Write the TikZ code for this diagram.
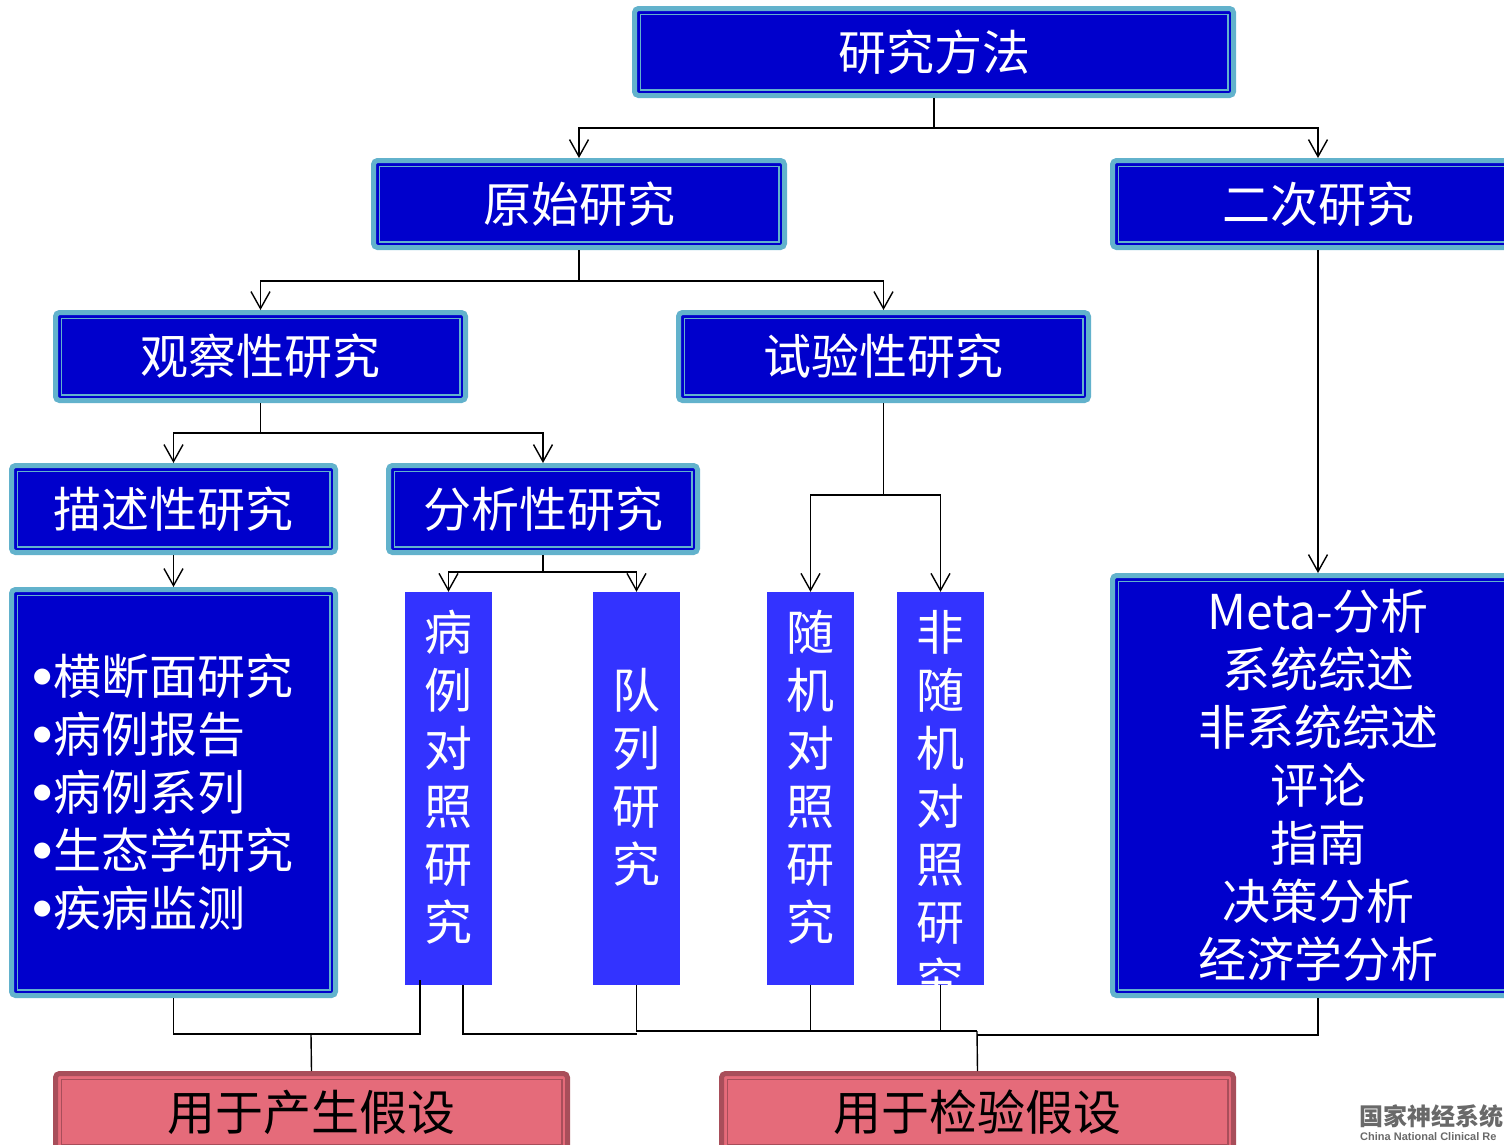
\documentclass[tikz,border=0pt]{standalone}
\usepackage{fontspec}
\setmainfont{Noto Sans CJK SC}
\newfontfamily\dejavu{DejaVu Sans}
\newfontfamily\logolatin{Liberation Sans}
\usetikzlibrary{arrows.meta}
\definecolor{boxblue}{RGB}{0,0,204}
\definecolor{lblue}{RGB}{98,178,204}
\definecolor{colblue}{RGB}{51,51,255}
\definecolor{pinkfill}{RGB}{229,107,122}
\definecolor{pinkdark}{RGB}{168,78,90}
\definecolor{logogray}{RGB}{105,105,105}
\newcommand\bigtxt{\fontsize{48}{58}\selectfont}
\newcommand\mybul{\makebox[20pt][l]{\raisebox{12pt}{\dejavu\fontsize{21}{21}\selectfont ●}}}
\tikzset{
  framed/.style n args={3}{rectangle, rounded corners=4pt, fill=#1, draw=#2, line width=5pt, inner sep=0pt,
    path picture={\draw[#3, line width=1.6pt, sharp corners]
      ([shift={(5.8pt,-5.8pt)}]path picture bounding box.north west) rectangle
      ([shift={(-5.8pt,5.8pt)}]path picture bounding box.south east);}},
  bluebox/.style={framed={boxblue}{lblue}{lblue}, text=white, font=\bigtxt},
  pinkbox/.style={framed={pinkfill}{pinkdark}{pinkdark}, text=black, font=\bigtxt},
  colbox/.style={rectangle, fill=colblue, inner sep=0pt, minimum width=87pt, minimum height=393pt},
  coltext/.style={text=white, font=\bigtxt, align=center, inner sep=0pt},
  conn/.style={black, line width=1.4pt},
  arr/.style={conn, -{Straight Barb[length=17pt,width=19pt]}},
}
\begin{document}
\begin{tikzpicture}[x=1pt,y=-1pt]
\clip (0,0) rectangle (1504,1144);
% boxes
\node[bluebox, minimum width=599pt, minimum height=87pt] (top) at (934,52) {研究方法};
\node[bluebox, minimum width=411pt, minimum height=87pt] (orig) at (579,204) {原始研究};
\node[bluebox, minimum width=411pt, minimum height=87pt] (second) at (1318,204) {二次研究};
\node[bluebox, minimum width=410pt, minimum height=88pt] (obs) at (260.5,356.5) {观察性研究};
\node[bluebox, minimum width=410pt, minimum height=88pt] (exp) at (883.5,356.5) {试验性研究};
\node[bluebox, minimum width=324pt, minimum height=87pt] (desc) at (173.5,509) {描述性研究};
\node[bluebox, minimum width=309pt, minimum height=87pt] (anal) at (543,509) {分析性研究};
\node[bluebox, minimum width=324pt, minimum height=406pt, text width=281pt, align=left] (list) at (173.5,792.5)
  {\mybul 横断面研究\\\mybul 病例报告\\\mybul 病例系列\\\mybul 生态学研究\\\mybul 疾病监测};
\node[bluebox, minimum width=411pt, minimum height=420pt, align=center] (meta) at (1318,785.5)
  {Meta-分析\\系统综述\\非系统综述\\评论\\指南\\决策分析\\经济学分析};
\node[pinkbox, minimum width=512pt, minimum height=77pt] (hyp1) at (311.5,1112) {用于产生假设};
\node[pinkbox, minimum width=512pt, minimum height=77pt] (hyp2) at (977.5,1112) {用于检验假设};
% columns
\node[colbox] (c1) at (448.5,788.5) {};
\node[colbox] (c2) at (636.5,788.5) {};
\node[colbox] (c3) at (810.5,788.5) {};
\node[colbox] (c4) at (940.5,788.5) {};
\node[coltext] (t1) at (448.5,777) {病\\例\\对\\照\\研\\究};
\node[coltext] (t2) at (636.5,777) {队\\列\\研\\究};
\node[coltext] (t3) at (810.5,777) {随\\机\\对\\照\\研\\究};
\begin{scope}
\clip (897,592) rectangle (984,985);
\node[coltext] (t4) at (940.5,806) {非\\随\\机\\对\\照\\研\\究};
\end{scope}
% logo
\node[anchor=west, inner sep=0pt, text=logogray, font=\fontsize{24}{24}\selectfont\bfseries] (logo1) at (1359,1116) {国家神经系统};
\node[anchor=west, inner sep=0pt, text=logogray, font=\logolatin\fontsize{11}{11}\selectfont\bfseries] (logo2) at (1360,1137) {China National Clinical Re};
% top connectors
\coordinate (j1) at (934,128);
\draw[conn] (top.south) -- (j1);
\draw[arr] (j1) -| (orig.north);
\draw[arr] (j1) -| (second.north);
\coordinate (j2) at (579,281);
\draw[conn] (orig.south) -- (j2);
\draw[arr] (j2) -| (obs.north);
\draw[arr] (j2) -| (exp.north);
\coordinate (j3) at (260.5,433);
\draw[conn] (obs.south) -- (j3);
\draw[arr] (j3) -| (desc.north);
\draw[arr] (j3) -| (anal.north);
\coordinate (j4) at (883.5,495);
\draw[conn] (exp.south) -- (j4);
\draw[arr] (j4) -| (c3.north);
\draw[arr] (j4) -| (c4.north);
\coordinate (j5) at (543,572);
\draw[conn] (anal.south) -- (j5);
\draw[arr] (j5) -| (c1.north);
\draw[arr] (j5) -| (c2.north);
\draw[arr] (desc.south) -- (list.north);
\draw[arr] (second.south) -- (meta.north);
% bottom connectors
\coordinate (k1) at (420,980);
\coordinate (m1) at (311,1034);
\draw[conn] (list.south) |- (k1 |- m1) -- (k1);
\draw[conn] (m1) -- (hyp1.north);
\coordinate (k2) at (463,985);
\coordinate (m2) at (637,1034);
\draw[conn] (k2) |- (m2);
\coordinate (m3) at (977,1031);
\coordinate (m4) at (977,1035);
\draw[conn] (c2.south) |- (m3);
\draw[conn] (c3.south) -- (c3.south |- m3);
\draw[conn] (c4.south) -- (c4.south |- m3);
\draw[conn] (m3) -- (hyp2.north);
\draw[conn] (meta.south) |- (m4);
\end{tikzpicture}
\end{document}
